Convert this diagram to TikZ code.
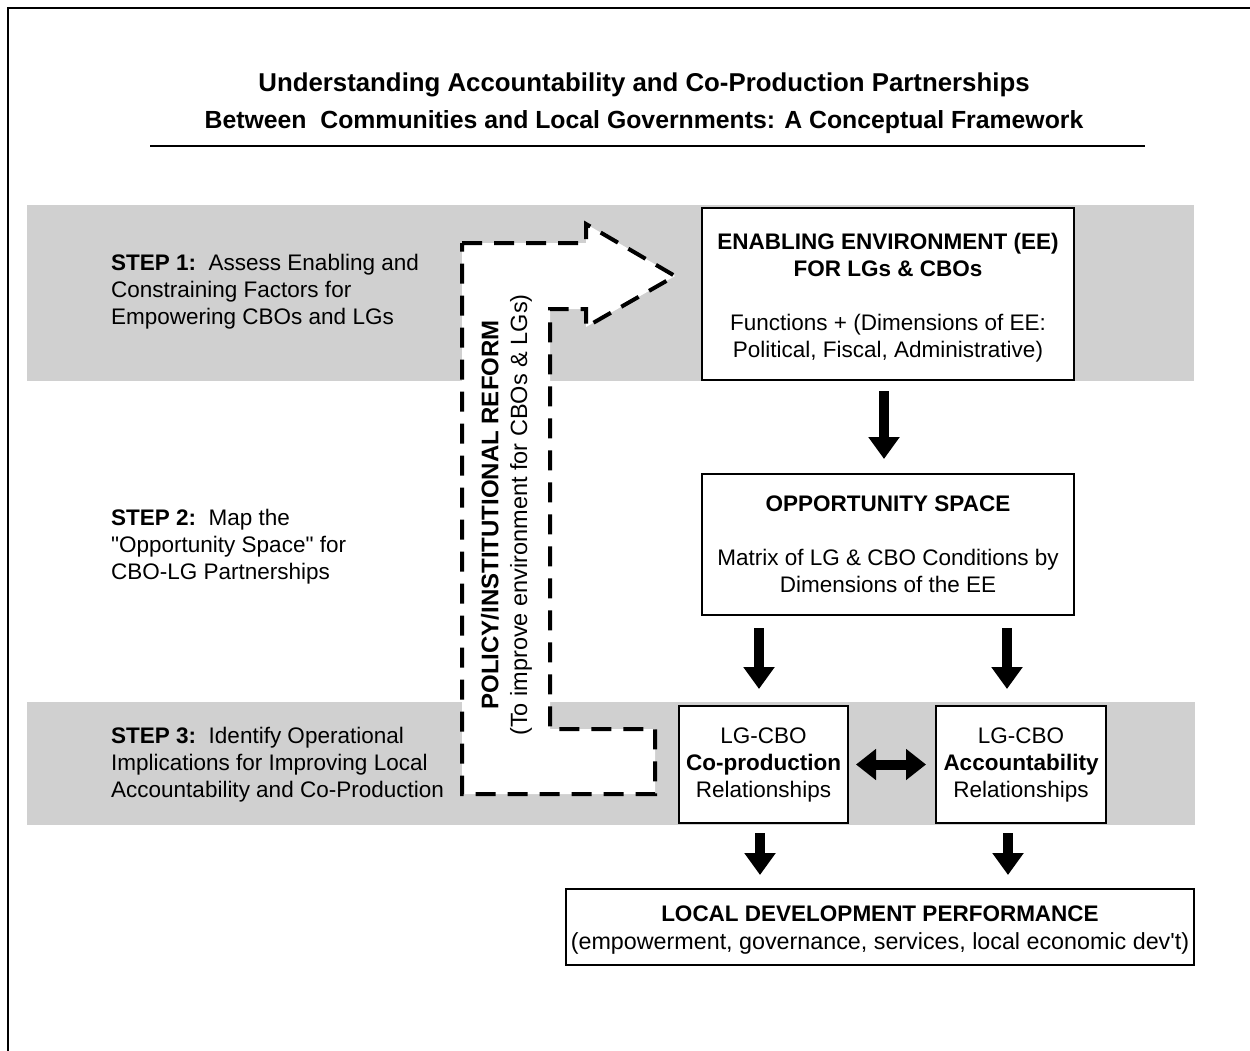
\documentclass[tikz,border=0pt]{standalone}
\usepackage{fontspec}
\setmainfont{Liberation Sans}
\newfontfamily\plainfont{Liberation Sans}
\usetikzlibrary{arrows.meta}
\definecolor{band}{RGB}{208,208,208}
\tikzset{
  box/.style={draw=black, line width=2pt, fill=white, align=center, inner sep=0pt, font=\fontsize{22.5}{27}\selectfont},
  boxtext/.style={align=center, inner sep=0pt, font=\fontsize{22.5}{27}\selectfont},
  steptext/.style={anchor=west, align=left, inner sep=0pt, font=\fontsize{22.5}{27}\selectfont},
  bigarrow/.style={line width=10pt, -{Triangle[width=30pt,length=22pt]}},
  dbarrow/.style={line width=10pt, {Triangle[width=30pt,length=20pt]}-{Triangle[width=30pt,length=20pt]}},
  dashshape/.style={draw=black, fill=white, line width=4pt, dash pattern=on 20pt off 12pt},
}
\begin{document}
\begin{tikzpicture}[x=1pt,y=-1pt]
\useasboundingbox (0,0) rectangle (1250,1051);
\fill[white] (0,0) rectangle (1250,1051);
% frame
\draw[line width=2pt] (8,1051) -- (8,8) -- (1250,8);
% title
\node[font=\bfseries\fontsize{25.3}{37}\selectfont, align=center, inner sep=0pt] (title) at (644,103)
  {\fontsize{25.8}{37}\selectfont Understanding Accountability and Co-Production Partnerships\\\fontsize{24.8}{37}\selectfont Between\ \ Communities and Local Governments: A Conceptual Framework};
\draw[line width=2pt] (150,146) -- (1145,146);
% bands
\fill[band] (27,205) rectangle (1194,381);
\fill[band] (27,702) rectangle (1195,825);
% step texts
\node[steptext] (s1) at (111,292) {\textbf{STEP 1:}\ \ Assess Enabling and\\Constraining Factors for\\Empowering CBOs and LGs};
\node[steptext] (s2) at (111,547) {\textbf{STEP 2:}\ \ Map the\\{\plainfont "Opportunity Space"} for\\CBO-LG Partnerships};
\node[steptext] (s3) at (111,765) {\textbf{STEP 3:}\ \ Identify Operational\\Implications for Improving Local\\Accountability and Co-Production};
% dashed reform arrow
\draw[dashshape] (462,243) -- (586,243) -- (586,224) -- (675,276) -- (586,327) -- (586,309)
  -- (550,309) -- (550,729) -- (655,729) -- (655,794) -- (462,794) -- cycle;
\node[rotate=90, inner sep=0pt, font=\bfseries\fontsize{24}{24}\selectfont] (reform) at (490,515) {POLICY/INSTITUTIONAL REFORM};
\node[rotate=90, inner sep=0pt, font=\fontsize{23.5}{24}\selectfont] (reformsub) at (521,515) {(To improve environment for CBOs \& LGs)};
% boxes
\node[box, minimum width=372pt, minimum height=172pt] (ee) at (888,294) {};
\node[boxtext] (eetext) at ([yshift=-4pt]ee.center)
  {\textbf{ENABLING ENVIRONMENT (EE)}\\\textbf{FOR LGs \& CBOs}\\[27pt]Functions + (Dimensions of EE:\\Political, Fiscal, Administrative)};
\node[box, minimum width=372pt, minimum height=141pt] (opp) at (888,544.5)
  {\textbf{OPPORTUNITY SPACE}\\[27pt]Matrix of LG \& CBO Conditions by\\Dimensions of the EE};
\node[box, minimum width=169pt, minimum height=117pt] (co) at (763.5,764.5)
  {LG-CBO\\\textbf{Co-production}\\Relationships};
\node[box, minimum width=170pt, minimum height=117pt] (acc) at (1021,764.5)
  {LG-CBO\\\textbf{Accountability}\\Relationships};
\node[box, minimum width=628pt, minimum height=76pt] (ldp) at (880,927) {};
\node[boxtext, font=\fontsize{23.3}{28}\selectfont] (ldptext) at ([yshift=-3pt]ldp.center)
  {\textbf{\fontsize{22.5}{28}\selectfont LOCAL DEVELOPMENT PERFORMANCE}\\(empowerment, governance, services, local economic dev{\plainfont '}t)};
% arrows
\draw[bigarrow, shorten <=10pt, shorten >=14pt] (ee.south -| 884,0) -- (opp.north -| 884,0);
\draw[bigarrow, shorten <=12pt, shorten >=16pt] (opp.south -| 759,0) -- (co.north -| 759,0);
\draw[bigarrow, shorten <=12pt, shorten >=16pt] (opp.south -| 1007,0) -- (acc.north -| 1007,0);
\draw[dbarrow, shorten <=7pt, shorten >=9pt] (co.east) -- (acc.west);
\draw[bigarrow, shorten <=9pt, shorten >=13pt] (co.south -| 760,0) -- (ldp.north -| 760,0);
\draw[bigarrow, shorten <=9pt, shorten >=13pt] (acc.south -| 1008,0) -- (ldp.north -| 1008,0);
\end{tikzpicture}
\end{document}
